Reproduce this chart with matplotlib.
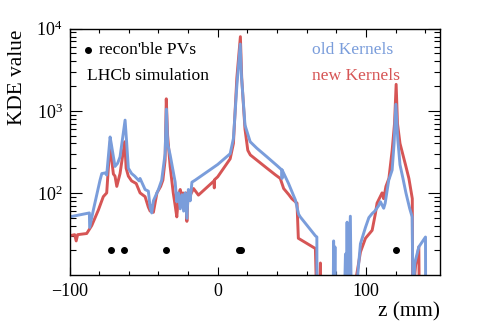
"""KDE value along z: old vs new kernels (LHCb simulation)."""
import matplotlib
matplotlib.use("Agg")
import matplotlib.pyplot as plt
from matplotlib.ticker import FixedLocator, LogLocator, MultipleLocator, NullFormatter

plt.rcParams["font.family"] = ["Liberation Serif", "DejaVu Serif"]
plt.rcParams["mathtext.fontset"] = "stix"

# old kernels (blue)
z_old = [-100, -86.6, -86.4, -83.9, -79.4, -78.2, -76, -74.9, -72.6, -71.5,
         -69.3, -67.5, -65.9, -62.5, -61.4, -60.3, -58.1, -56, -54.6, -53,
         -52.4, -49, -46.8, -45.6, -44.5, -43.4, -40, -37.8, -35.5, -34.6,
         -33.8, -32.1, -28.7, -27.6, -26.5, -25.3, -24.2, -23, -22, -20.8,
         -19.8, -18.6, -17.4, -15.2, 0, 8.4, 10.6, 12.9, 15.2, 16.0,
         18.4, 21.9, 26.4, 33.2, 40, 43.3, 43.4, 43.5, 47.8, 52.4,
         54.6, 55.7, 65.9, 66.9, 67.0, 77.9, 78.2, 78.6, 79.1, 79.5,
         85.5, 86.2, 86.8, 87.3, 87.8, 89.5, 90.1, 93, 96.3, 99.7,
         102, 104.2, 106, 108.6, 109.8, 112, 113, 115.4, 117.7, 119,
         120.2, 121.5, 123, 125, 127, 129.5, 131.2, 131.8, 133, 135.7,
         140.2, 140.3]
kde_old = [51, 57, 38, 62, 143, 172, 175, 165, 480, 365,
           210, 230, 275, 770, 400, 200, 172, 160, 150, 140,
           150, 110, 105, 67, 57, 80, 110, 143, 300, 1050,
           400, 290, 135, 78, 100, 64, 95, 60, 100, 49,
           110, 80, 135, 143, 222, 300, 460, 2000, 6500, 2700,
           670, 420, 350, 275, 215, 190, 150, 190, 130, 82,
           55, 51, 30, 29, 5, 5, 26, 5, 22, 5,
           5, 18, 5, 44, 5, 52, 5, 5, 24, 38,
           50, 56, 60, 70, 78, 65, 75, 143, 190, 400,
           1200, 450, 220, 150, 100, 65, 51, 5, 14, 22,
           29, 5]

# new kernels (red)
z_new = [-100, -96.5, -95.5, -94.5, -88.4, -85, -80.5, -77.2, -74.9, -73.8,
         -72.4, -71.5, -70.4, -69.3, -68.1, -65.9, -63.6, -62.7, -61.8, -60.3,
         -58.1, -55, -52.4, -49, -46.8, -45.6, -44.5, -43.4, -41, -38.5,
         -37, -35.5, -34.7, -33.8, -32.1, -30, -28.7, -27.6, -26.5, -25.3,
         -24.5, -23.5, -22.5, -21.5, -20.8, -20, -19, -16.3, -13, -2.5,
         -2.3, -2.1, 0, 8.4, 10.6, 12.9, 15.3, 16.2, 18.4, 20.3,
         22, 33.2, 38.9, 42.2, 44.5, 48, 50, 53.5, 54.4, 65.9,
         66.8, 68.5, 69.3, 69.6, 91, 96.3, 99.7, 104.2, 106.4, 107.5,
         110.9, 112, 113.5, 115.5, 117.7, 119.3, 120.4, 121.3, 123, 126.7,
         129, 131.3, 131.5, 133.5, 135.7, 136]
kde_new = [30, 31, 26, 31, 32, 40, 62, 90, 100, 200,
           430, 250, 170, 160, 120, 172, 330, 420, 200, 160,
           140, 130, 100, 90, 67, 60, 70, 58, 100, 120,
           143, 250, 1400, 500, 210, 100, 70, 51, 90, 110,
           75, 100, 70, 100, 45, 100, 90, 113, 94, 140,
           115, 145, 157, 260, 400, 2500, 8000, 2500, 600, 330,
           290, 200, 166, 150, 113, 95, 85, 75, 28, 21,
           5, 5, 14, 5, 5, 19, 28, 35, 56, 75,
           100, 85, 120, 150, 330, 700, 2100, 700, 400, 220,
           150, 85, 5, 13, 22, 5]

# reconstructible PVs
pv_z = [-72.0, -63.0, -34.8, 14.6, 15.6, 120.0]
pv_y = [20, 20, 20, 20, 20, 20]

BLUE = "#7a9ddb"
RED = "#d65555"

fig = plt.figure(figsize=(4.81, 3.30), dpi=100)
ax = fig.add_axes([0.1445, 0.1667, 0.7703, 0.7463])

ax.plot(z_new, kde_new, color=RED, lw=2.1)
ax.plot(z_old, kde_old, color=BLUE, lw=2.1)
ax.plot(pv_z, pv_y, "o", color="black", ms=4)

ax.set_yscale("log")
ax.set_xlim(-100, 150)
ax.set_ylim(10, 1e4)

ax.xaxis.set_major_locator(MultipleLocator(100))
ax.xaxis.set_minor_locator(MultipleLocator(20))
ax.yaxis.set_major_locator(FixedLocator([1e2, 1e3, 1e4]))
ax.yaxis.set_minor_locator(LogLocator(base=10, subs=range(2, 10)))
ax.yaxis.set_minor_formatter(NullFormatter())

ax.tick_params(which="both", direction="in", top=True, right=True, labelsize=13, width=0.8)
ax.tick_params(axis="x", which="major", length=5.8, pad=6)
ax.tick_params(axis="x", which="minor", length=3.2)
ax.tick_params(axis="y", which="major", length=8.3, pad=5)
ax.tick_params(axis="y", which="minor", length=4)
for s in ax.spines.values():
    s.set_linewidth(1.0)

ax.set_xlabel("z (mm)", fontsize=15.3, loc="right")
ax.set_ylabel("KDE value", fontsize=15.3, loc="top")
ax.yaxis.set_label_coords(-0.115, 0.995)
ax.xaxis.set_label_coords(1.0, -0.11)

ax.plot([0.05], [0.912], "o", color="black", ms=4, transform=ax.transAxes, clip_on=False)
ax.text(0.08, 0.915, "recon'ble PVs", transform=ax.transAxes, fontsize=12.6, va="center")
ax.text(0.047, 0.808, "LHCb simulation", transform=ax.transAxes, fontsize=12.6, va="center")
ax.text(0.655, 0.915, "old Kernels", transform=ax.transAxes, fontsize=12.6, va="center", color=BLUE)
ax.text(0.655, 0.808, "new Kernels", transform=ax.transAxes, fontsize=12.6, va="center", color=RED)

fig.savefig("out.png", dpi=100)
